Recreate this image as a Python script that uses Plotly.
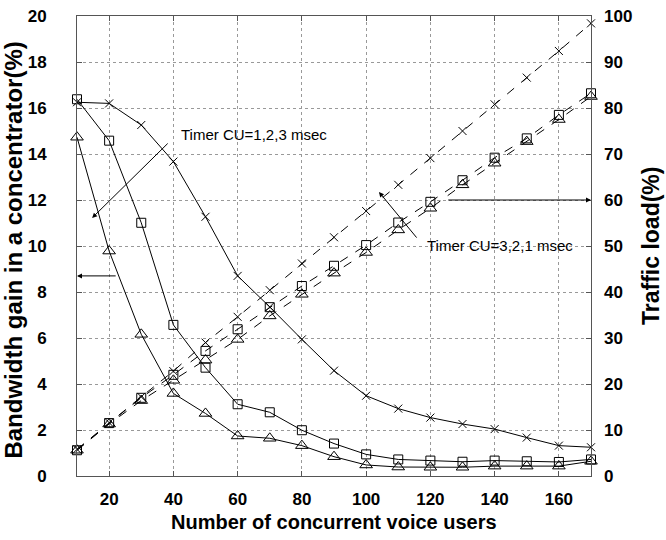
import plotly.graph_objects as go

users = [10, 20, 30, 40, 50, 60, 70, 80, 90, 100, 110, 120, 130, 140, 150, 160, 170]

# Bandwidth gain (%) - left axis, solid lines
gain_cross = [16.25, 16.2, 15.26, 13.67, 11.27, 8.7, 7.35, 5.94, 4.58, 3.49, 2.93, 2.54, 2.26, 2.04, 1.67, 1.32, 1.25]
gain_square = [16.38, 14.58, 11.01, 6.57, 4.71, 3.12, 2.77, 1.99, 1.41, 0.94, 0.72, 0.67, 0.62, 0.67, 0.64, 0.61, 0.72]
gain_triangle = [14.73, 9.78, 6.16, 3.59, 2.72, 1.74, 1.64, 1.32, 0.84, 0.48, 0.39, 0.38, 0.38, 0.43, 0.43, 0.43, 0.64]

# Traffic load (%) - right axis, dashed lines
load_cross = [5.8, 11.6, 17.2, 22.8, 29.0, 34.6, 40.4, 46.2, 51.9, 57.6, 63.3, 69.1, 75.0, 80.8, 86.6, 92.4, 98.4]
load_square = [5.6, 11.5, 17.0, 22.0, 27.2, 31.9, 36.7, 41.3, 45.7, 50.2, 55.1, 59.6, 64.3, 69.2, 73.4, 78.5, 83.2]
load_triangle = [5.6, 11.3, 16.4, 20.8, 25.2, 29.7, 34.8, 39.5, 44.1, 48.6, 53.5, 58.2, 63.3, 68.0, 72.7, 77.5, 82.5]

x_ticks = [20, 40, 60, 80, 100, 120, 140, 160]
left_ticks = [0, 2, 4, 6, 8, 10, 12, 14, 16, 18, 20]
right_ticks = [0, 10, 20, 30, 40, 50, 60, 70, 80, 90, 100]

FONT = "Liberation Sans, Arial, sans-serif"

fig = go.Figure()

def add(y, sym, size, dash, axis):
    fig.add_trace(go.Scatter(
        x=users, y=y, mode="lines+markers", yaxis=axis,
        line=dict(color="black", width=1, dash=dash),
        marker=dict(symbol=sym, size=size, color="black",
                    line=dict(color="black", width=1)),
        cliponaxis=False, showlegend=False))

add(gain_cross, "x-thin", 8, "solid", "y")
add(gain_square, "square-open", 9, "solid", "y")
add(gain_triangle, "triangle-up-open", 11, "solid", "y")
add(load_cross, "x-thin", 8, "dash", "y2")
add(load_square, "square-open", 9, "dash", "y2")
add(load_triangle, "triangle-up-open", 11, "dash", "y2")

axis_col = "#555555"
grid_col = "#999999"
tickfont = dict(family=FONT, size=17, weight="bold", color="black")

fig.update_layout(
    width=666, height=540,
    margin=dict(l=77, r=75, t=16, b=64, autoexpand=False),
    paper_bgcolor="white", plot_bgcolor="white",
    font=dict(family=FONT, color="black"),
    xaxis=dict(
        range=[10, 170], tickvals=x_ticks, automargin=False,
        showgrid=True, gridcolor=grid_col, griddash="dot", gridwidth=1,
        showline=True, linecolor=axis_col, linewidth=1, mirror="ticks",
        ticks="inside", ticklen=5, tickcolor=axis_col,
        tickfont=tickfont, ticklabelstandoff=8, zeroline=False,
    ),
    yaxis=dict(
        range=[0, 20], tickvals=left_ticks, automargin=False,
        showgrid=True, gridcolor=grid_col, griddash="dot", gridwidth=1,
        showline=True, linecolor=axis_col, linewidth=1, mirror="ticks",
        ticks="inside", ticklen=5, tickcolor=axis_col,
        tickfont=tickfont, ticklabelstandoff=26, zeroline=False,
    ),
    yaxis2=dict(
        range=[0, 100], tickvals=right_ticks, overlaying="y", side="right",
        automargin=False, showgrid=False, showline=False, zeroline=False,
        ticks="", tickfont=tickfont, ticklabelstandoff=12,
    ),
)

# axis titles
fig.add_annotation(x=0.5, y=-(522 - 476) / 460, xref="paper", yref="paper",
                   yanchor="middle", text="Number of concurrent voice users",
                   showarrow=False, font=dict(family=FONT, size=20, weight="bold"))
fig.add_annotation(x=-(77 - 14) / 514, y=0.49, xref="paper", yref="paper",
                   text="Bandwidth gain in a concentrator(%)", textangle=-90,
                   showarrow=False, xanchor="center", yanchor="middle",
                   font=dict(family=FONT, size=24, weight="bold"))
fig.add_annotation(x=1 + (651 - 591) / 514, y=(476 - 246) / 460, xref="paper", yref="paper",
                   text="Traffic load(%)", textangle=-90,
                   showarrow=False, xanchor="center", yanchor="middle",
                   font=dict(family=FONT, size=23, weight="bold"))

def arrow(x0, y0, x1, y1):
    fig.add_annotation(x=x1, y=y1, ax=x0, ay=y0, xref="x", yref="y",
                       axref="x", ayref="y", text="", showarrow=True,
                       arrowhead=2, arrowsize=1, arrowwidth=1, arrowcolor="black")

arrow(38.7, 14.52, 14.7, 11.22)
arrow(22.5, 8.7, 10.0, 8.7)
arrow(116.1, 10.3, 104.0, 12.35)
arrow(125.1, 12.0, 170.0, 12.0)

fig.add_annotation(x=41.8, y=14.83, xref="x", yref="y", text="Timer CU=1,2,3 msec",
                   showarrow=False, xanchor="left", yanchor="middle",
                   font=dict(family=FONT, size=15, color="black"))
fig.add_annotation(x=118.3, y=10.04, xref="x", yref="y", text="Timer CU=3,2,1 msec",
                   showarrow=False, xanchor="left", yanchor="middle",
                   font=dict(family=FONT, size=15, color="black"))

fig.write_html("out.html")
